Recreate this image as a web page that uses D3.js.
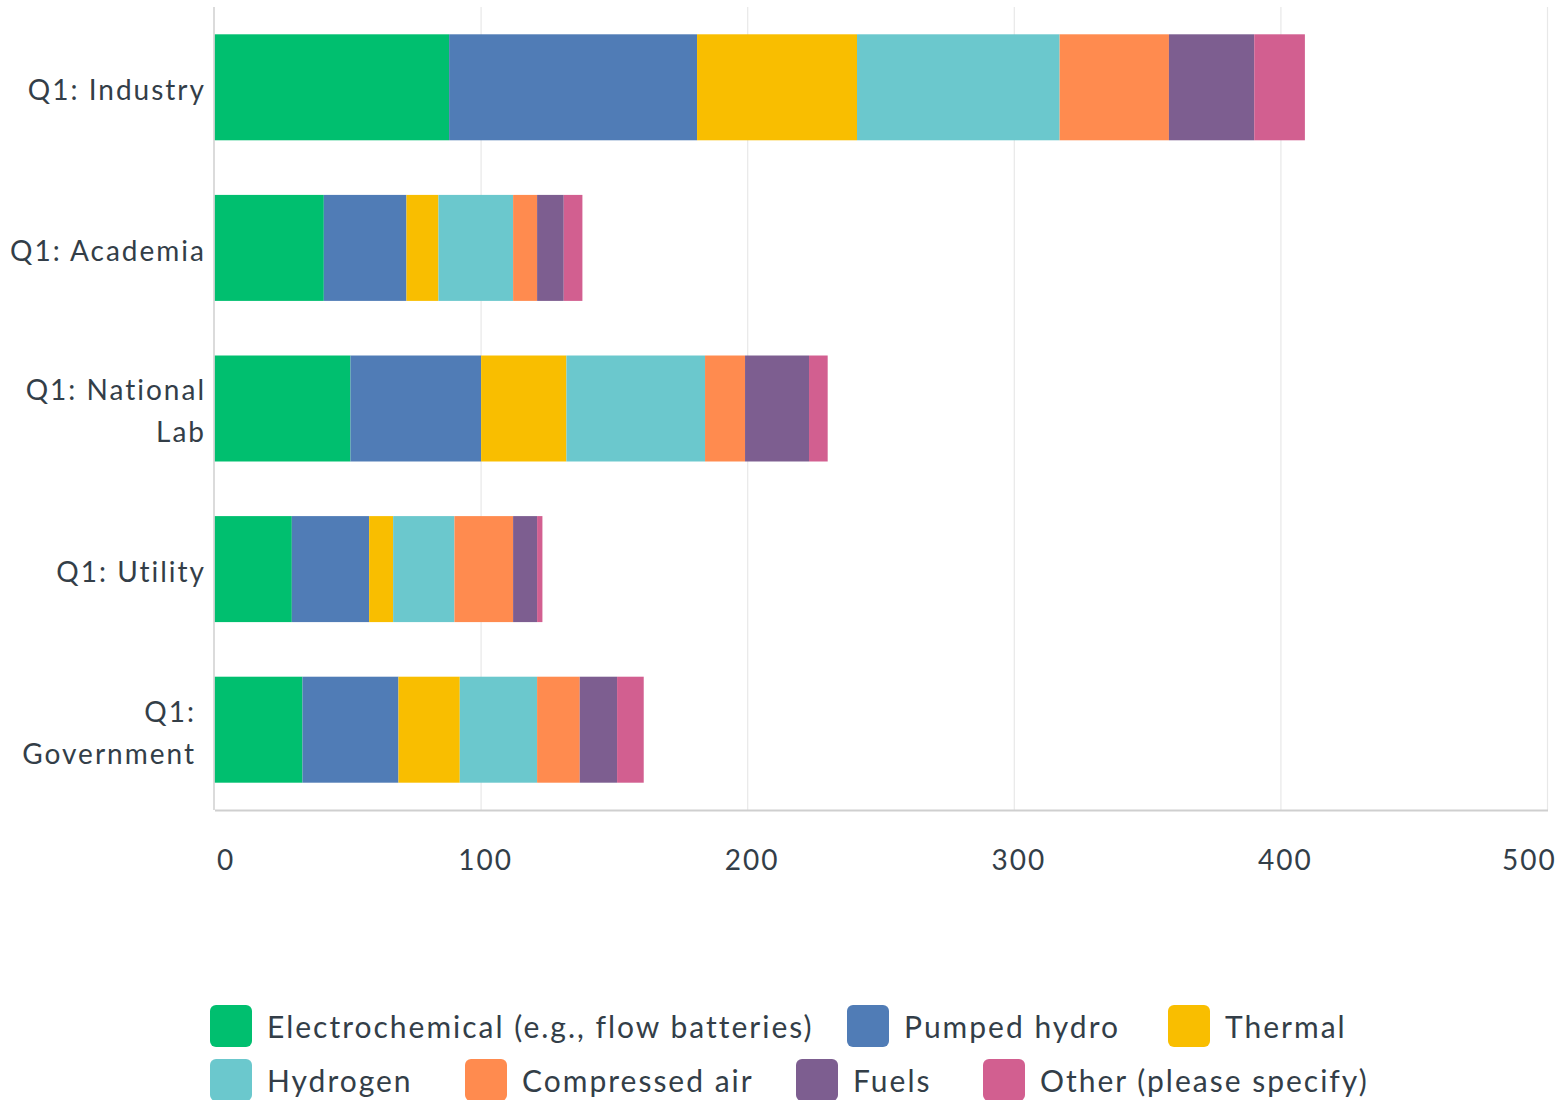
<!DOCTYPE html>
<html>
<head>
<meta charset="utf-8">
<script src="https://cdn.jsdelivr.net/npm/d3@7"></script>
<style>
  html, body { margin: 0; padding: 0; background: #ffffff; overflow: hidden; }
  svg { display: block; font-family: Lato, "Open Sans", sans-serif; }
</style>
</head>
<body>
<svg id="chart" width="1557" height="1100"></svg>
<script>
// Respondent groups (rows) and how their label wraps
const categories = ["Q1: Industry", "Q1: Academia", "Q1: National Lab", "Q1: Utility", "Q1: Government"];
const categoryLines = [["Q1: Industry"], ["Q1: Academia"], ["Q1: National", "Lab"], ["Q1: Utility"], ["Q1:", "Government"]];

// Storage technology series
const seriesNames = [
  "Electrochemical (e.g., flow batteries)", "Pumped hydro", "Thermal",
  "Hydrogen", "Compressed air", "Fuels", "Other (please specify)"
];
const seriesColors = ["#00bf6f", "#507cb6", "#f9be00", "#6bc8cd", "#ff8b4f", "#7d5e90", "#d25f90"];

// Responses per group, one array per series
const electrochemical = [88, 41, 51, 29, 33];
const pumpedHydro     = [93, 31, 49, 29, 36];
const thermal         = [60, 12, 32,  9, 23];
const hydrogen        = [76, 28, 52, 23, 29];
const compressedAir   = [41,  9, 15, 22, 16];
const fuels           = [32, 10, 24,  9, 14];
const other           = [19,  7,  7,  2, 10];

const xTicks = [0, 100, 200, 300, 400, 500];

const seriesValues = [electrochemical, pumpedHydro, thermal, hydrogen, compressedAir, fuels, other];
const keys = seriesNames;
const rows = categories.map((c, i) => {
  const r = { category: c };
  keys.forEach((k, j) => { r[k] = seriesValues[j][i]; });
  return r;
});

const svg = d3.select("#chart");
const plot = { left: 214.5, right: 1547.5, top: 7, bottom: 810 };
const textColor = "#333e48";
const spacing = "2px";

const x = d3.scaleLinear().domain([0, 500]).range([plot.left, plot.right]);
const y = d3.scaleBand().domain(categories).range([plot.top, plot.bottom])
  .paddingInner(0.34).paddingOuter(0.17);

// Vertical gridlines
svg.append("g").selectAll("line").data(xTicks.slice(1)).join("line")
  .attr("x1", d => x(d)).attr("x2", d => x(d))
  .attr("y1", plot.top).attr("y2", plot.bottom)
  .attr("stroke", "#e8e8e8").attr("stroke-width", 1.2);

// Stacked bars
const stacked = d3.stack().keys(keys)(rows);
const color = d3.scaleOrdinal().domain(keys).range(seriesColors);

svg.append("g").selectAll("g").data(stacked).join("g")
  .attr("fill", d => color(d.key))
  .selectAll("rect").data(d => d).join("rect")
  .attr("x", d => x(d[0]))
  .attr("width", d => x(d[1]) - x(d[0]))
  .attr("y", d => y(d.data.category))
  .attr("height", y.bandwidth());

// Left axis line
svg.append("line")
  .attr("x1", plot.left - 0.5).attr("x2", plot.left - 0.5)
  .attr("y1", plot.top).attr("y2", plot.bottom)
  .attr("stroke", "#cfcfcf").attr("stroke-width", 1.5);

// Bottom axis
const xAxis = svg.append("g")
  .attr("transform", `translate(0,${plot.bottom})`)
  .call(d3.axisBottom(x).tickValues(xTicks).tickSize(0).tickPadding(51));
xAxis.select(".domain").attr("stroke", "#cfcfcf").attr("stroke-width", 2.2);
xAxis.selectAll(".tick text")
  .attr("fill", textColor)
  .attr("font-family", "Lato, 'Open Sans', sans-serif")
  .attr("font-size", 28)
  .attr("letter-spacing", spacing)
  .attr("dx", 4)
  .attr("dy", "0.32em");
xAxis.selectAll(".tick text").filter(d => d === 0).attr("text-anchor", "start").attr("dx", 2);
xAxis.selectAll(".tick text").filter(d => d === 500).attr("text-anchor", "start").attr("dx", -46);

// Category labels (wrapped lines, right-aligned against the axis)
const labelRight = [206, 206, 206, 206, 196];
const yLabels = svg.append("g").selectAll("text").data(categories).join("text")
  .attr("text-anchor", "end")
  .attr("fill", textColor)
  .attr("font-size", 28)
  .attr("letter-spacing", spacing);
yLabels.each(function(d, i) {
  const lines = categoryLines[i];
  const lh = 42;
  const t = d3.select(this);
  lines.forEach((ln, k) => {
    t.append("tspan")
      .attr("x", labelRight[i])
      .attr("y", y(d) + y.bandwidth() / 2 + 3 + (k - (lines.length - 1) / 2) * lh)
      .attr("dy", "0.35em")
      .text(ln);
  });
});

// Legend
const legendX = [210, 847, 1168, 210, 465, 796, 983];
const legendY = [1005, 1005, 1005, 1059, 1059, 1059, 1059];
const legend = svg.append("g").selectAll("g").data(keys).join("g")
  .attr("transform", (d, i) => `translate(${legendX[i]},${legendY[i]})`);
legend.append("rect")
  .attr("width", 42).attr("height", 42).attr("rx", 6)
  .attr("fill", d => color(d));
legend.append("text")
  .attr("x", 57).attr("y", 22).attr("dy", "0.35em")
  .attr("fill", textColor)
  .attr("font-size", 30)
  .attr("letter-spacing", spacing)
  .text(d => d);
</script>
</body>
</html>
